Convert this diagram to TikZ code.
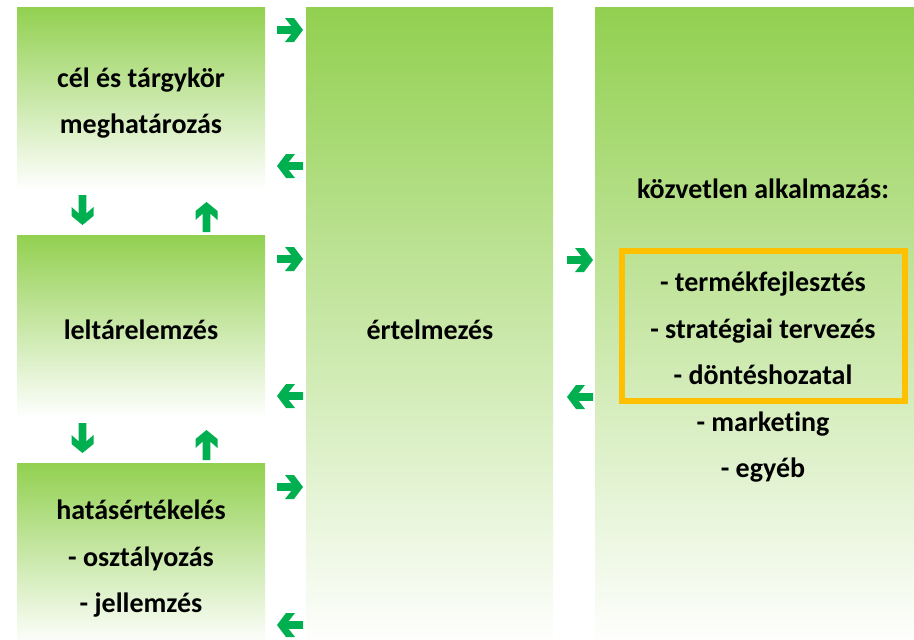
\documentclass[tikz,border=0pt]{standalone}
\usepackage{fontspec}
\setmainfont{Carlito}[Ligatures=NoCommon]
\definecolor{boxgreen}{HTML}{92D050}
\definecolor{arrgreen}{HTML}{00B050}
\definecolor{hlyellow}{HTML}{FFC000}
\tikzset{
  gbox/.style={rectangle, inner sep=0pt, top color=boxgreen, bottom color=white, shading angle=0},
  txt/.style={inner sep=0pt, align=center, font=\bfseries\fontsize{28}{46.5}\selectfont},
  garrow/.pic={
    \fill[arrgreen] (-13,-3.8) -- (1.4,-3.8) -- (-5,-12) -- (4,-12) -- (13,0) -- (4,12) -- (-5,12) -- (1.4,3.8) -- (-13,3.8) -- cycle;
  },
  varrow/.pic={
    \fill[arrgreen] (-15,-3.8) -- (3.4,-3.8) -- (-3,-11) -- (6,-11) -- (15,0) -- (6,11) -- (-3,11) -- (3.4,3.8) -- (-15,3.8) -- cycle;
  }
}
\begin{document}
\begin{tikzpicture}[x=1pt,y=-1pt]
\useasboundingbox (0,0) rectangle (914,640);
\begin{scope}
\clip (0,0) rectangle (914,640);
\node[gbox, minimum width=248, minimum height=183] (b1) at (141,98.5) {};
\node[gbox, minimum width=248, minimum height=183] (b2) at (141,326.5) {};
\node[gbox, minimum width=248, minimum height=183] (b3) at (141,554.5) {};
\node[gbox, minimum width=247, minimum height=640] (mid) at (429.5,327) {};
\node[gbox, minimum width=319, minimum height=640] (right) at (754.5,327) {};
\end{scope}
\node[txt] (t1) at (141,103) {cél és tárgykör\\meghatározás};
\node[txt] (t2) at (141,330) {leltárelemzés};
\node[txt] (t3) at (141,559) {hatásértékelés\\- osztályozás\\- jellemzés};
\node[txt] (tm) at (430,330) {értelmezés};
\node[txt] (rt) at (763,331) {közvetlen alkalmazás:\\ \\- termékfejlesztés\\- stratégiai tervezés\\- döntéshozatal\\- marketing\\- egyéb};
\node[draw=hlyellow, line width=6.5, minimum width=283, minimum height=150, inner sep=0pt] (hl) at (763.5,326) {};
% horizontal arrows left column
\pic at (290,30) {garrow};
\pic[rotate=180] at (290,166) {garrow};
\pic at (290,259) {garrow};
\pic[rotate=180] at (290,396) {garrow};
\pic at (290,487) {garrow};
\pic[rotate=180] at (290,625) {garrow};
% middle to right
\pic at (580,260) {garrow};
\pic[rotate=180] at (580,397) {garrow};
% vertical arrows
\pic[rotate=-90] at (82.5,210) {varrow};
\pic[rotate=90] at (206.5,217) {varrow};
\pic[rotate=-90] at (82.5,438) {varrow};
\pic[rotate=90] at (206.5,445) {varrow};
\end{tikzpicture}
\end{document}
